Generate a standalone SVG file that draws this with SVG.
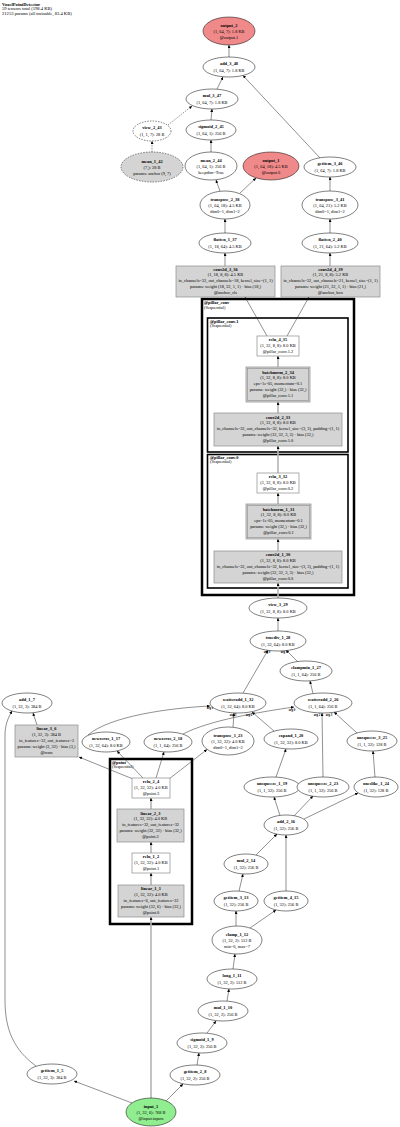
<svg xmlns="http://www.w3.org/2000/svg" width="400" height="1127" viewBox="0 0 400 1127">
<style>
.t{font-family:"Liberation Serif","Times New Roman",serif;font-size:4.4px;text-anchor:middle;fill:#000}
.l{font-family:"Liberation Serif","Times New Roman",serif;font-size:4.4px;text-anchor:start;fill:#000}
.h{font-family:"Liberation Serif","Times New Roman",serif;font-size:4.6px;text-anchor:start;fill:#000}
.a{font-family:"Liberation Serif","Times New Roman",serif;font-size:3px;font-weight:bold;text-anchor:middle;fill:#000}
.b{font-weight:bold}
.el{fill:#fff;stroke:#000;stroke-width:0.5}
.ds{stroke-dasharray:1.5,1.2}
.gr{fill:#d4d4d4}
.out{fill:#f08a8a}
.in{fill:#90ee90}
.box{fill:#d4d4d4;stroke:#8c8c8c;stroke-width:0.7}
.mb{fill:#fff;stroke:#8c8c8c;stroke-width:0.7}
.cl{fill:none;stroke:#000}
.e{fill:none;stroke:#222;stroke-width:0.5;marker-end:url(#ah)}
.g{fill:none;stroke:#b4b4b4;stroke-width:1.6;marker-end:url(#ag)}
</style>
<defs>
<marker id="ah" viewBox="0 0 10 10" refX="10" refY="5" markerWidth="3" markerHeight="3" markerUnits="userSpaceOnUse" orient="auto"><path d="M0,0 L10,5 L0,10 z" fill="#000"/></marker>
<marker id="ag" viewBox="0 0 10 10" refX="10" refY="5" markerWidth="3" markerHeight="3" markerUnits="userSpaceOnUse" orient="auto"><path d="M0,0 L10,5 L0,10 z" fill="#000"/></marker>
</defs>
<rect width="400" height="1127" fill="#fff"/>
<g id="title">
<text class="h b" x="2" y="5.5">VoxelPointDetector</text>
<text class="h" x="2" y="10.2">59 tensors total (198.4 KB)</text>
<text class="h" x="2" y="14.8">21253 params (all trainable, 83.4 KB)</text>
</g>
<g id="clusters">
<g id="cluster_pillar_conv"><rect class="cl" x="202" y="299" width="152" height="296" stroke-width="2.5"/><text class="l b" x="204" y="304.3">@pillar_conv</text><text class="l" x="204" y="308.7">(Sequential)</text></g>
<g id="cluster_pillar_conv_1"><rect class="cl" x="207.5" y="318" width="140.5" height="134" stroke-width="1.6"/><text class="l b" x="210" y="322.5">@pillar_conv.1</text><text class="l" x="210" y="326.9">(Sequential)</text></g>
<g id="cluster_pillar_conv_0"><rect class="cl" x="207.5" y="454.5" width="140.5" height="133.5" stroke-width="1.6"/><text class="l b" x="210" y="459">@pillar_conv.0</text><text class="l" x="210" y="463.4">(Sequential)</text></g>
<g id="cluster_point"><rect class="cl" x="110" y="759" width="82" height="165" stroke-width="2.5"/><text class="l b" x="112" y="764">@point</text><text class="l" x="112" y="768.4">(Sequential)</text></g>
</g>
<g id="connectors">
<path class="e" d="M132,1103 L74,1081"/>
<path class="e" d="M166,1101 L183,1084"/>
<path class="g" d="M151,1098 L151,917"/>
<path class="e" d="M36,1066 C14,1050 5,1030 5,1000 L5,735 C5,725 8,718 12,711"/>
<path class="e" d="M37,725 L33,713"/>
<path class="e" d="M133,779 L79,757"/>
<path class="e" d="M143,778 L117,751"/>
<path class="e" d="M156,778 L164,752"/>
<path class="e" d="M169,779 L207,749.5"/>
<path class="e" d="M88,735 C110,716 170,708 210,706"/>
<path class="e" d="M183,734 C210,720 260,712 294,707"/>
<path class="e" d="M233,727.5 L234,713"/>
<path class="e" d="M274,731 L252,712"/>
<path class="e" d="M243,693 L268,650"/>
<path class="e" d="M298,662 L286,650"/>
<path class="e" d="M313,693.5 L310,681"/>
<path class="e" d="M278,631 L278,618"/>
<path class="g" d="M278,598 L278,583"/>
<path class="e" d="M276,777 L286,749"/>
<path class="e" d="M323,777 L322,713"/>
<path class="e" d="M357,733 L334,712"/>
<path class="e" d="M375,777 L373,751"/>
<path class="e" d="M280,815.5 L274,797"/>
<path class="e" d="M294,816 L313,796"/>
<path class="e" d="M304,819 L358,793"/>
<path class="e" d="M256,855 L277,834"/>
<path class="e" d="M286,891 L286,835"/>
<path class="e" d="M239,891 L243,874"/>
<path class="e" d="M236,926 L236,911"/>
<path class="e" d="M250,928 L276,910"/>
<path class="e" d="M233,969 L235,954"/>
<path class="e" d="M227,1001 L229,989"/>
<path class="e" d="M207,1033 L216,1021"/>
<path class="e" d="M197,1065 L199,1053"/>
<path class="g" d="M151,885 L151,873"/>
<path class="g" d="M151,853 L151,842"/>
<path class="g" d="M151,809 L151,798"/>
<path class="g" d="M278,551 L278,539"/>
<path class="g" d="M278,504 L278,493"/>
<path class="g" d="M278,473 L278,446"/>
<path class="g" d="M278,413 L278,402"/>
<path class="g" d="M278,367 L278,356"/>
<path class="e" d="M267,336 L245,297"/>
<path class="e" d="M287,336 L309,297"/>
<path class="e" d="M225,266 L225,253"/>
<path class="e" d="M225,233 L225,219"/>
<path class="e" d="M330,266 L330,253"/>
<path class="e" d="M330,233 L330,219"/>
<path class="e" d="M240,193 L256,178"/>
<path class="e" d="M220,191.3 L216,180"/>
<path class="e" d="M330,191 L330,177"/>
<path class="e" d="M211,152 L211,140"/>
<path class="e" d="M211,120 L212,109"/>
<path class="e ds" d="M152,152 L152,141"/>
<path class="e ds" d="M168,125 L192,106"/>
<path class="e" d="M217,89 L223,77"/>
<path class="e" d="M320,158 L243,75.5"/>
<path class="e" d="M229,57 L229,45"/>
<text class="a" x="267" y="652.5">arg 0</text>
<text class="a" x="284" y="652.5">arg 1</text>
<text class="a" x="210" y="708.5">arg 0</text>
<text class="a" x="233" y="716">arg 3</text>
<text class="a" x="249" y="715.5">arg 2</text>
<text class="a" x="292" y="710.5">arg 0</text>
<text class="a" x="317" y="716">arg 2</text>
<text class="a" x="329" y="715.5">arg 3</text>
</g>
<g id="output_2"><ellipse class="el out" cx="229" cy="31" rx="26" ry="14"/><text class="t b" x="229" y="26.6">output_2</text><text class="t" x="229" y="32.6">(1, 64, 7): 1.8 KB</text><text class="t" x="229" y="38.6">@output.1</text></g>
<g id="add_3_48"><ellipse class="el" cx="229" cy="67" rx="26" ry="10"/><text class="t b" x="229" y="65.2">add_3_48</text><text class="t" x="229" y="71.6">(1, 64, 7): 1.8 KB</text></g>
<g id="mul_3_47"><ellipse class="el" cx="212" cy="99" rx="26" ry="10"/><text class="t b" x="212" y="97.2">mul_3_47</text><text class="t" x="212" y="103.6">(1, 64, 7): 1.8 KB</text></g>
<g id="sigmoid_2_45"><ellipse class="el" cx="211" cy="130" rx="25" ry="10"/><text class="t b" x="211" y="128.2">sigmoid_2_45</text><text class="t" x="211" y="134.6">(1, 64, 1): 256 B</text></g>
<g id="view_2_43"><ellipse class="el ds" cx="152" cy="131" rx="19" ry="10"/><text class="t b" x="152" y="129.2">view_2_43</text><text class="t" x="152" y="135.6">(1, 1, 7): 28 B</text></g>
<g id="mean_1_42"><ellipse class="el gr ds" cx="152" cy="167" rx="31" ry="15"/><text class="t b" x="152" y="162.6">mean_1_42</text><text class="t" x="152" y="168.6">(7,): 28 B</text><text class="t" x="152" y="174.6">params: anchor (9, 7)</text></g>
<g id="mean_2_44"><ellipse class="el" cx="211" cy="166" rx="26" ry="14"/><text class="t b" x="211" y="161.6">mean_2_44</text><text class="t" x="211" y="167.6">(1, 64, 1): 256 B</text><text class="t" x="211" y="173.6">keepdim=True</text></g>
<g id="output_1"><ellipse class="el out" cx="271" cy="166" rx="28" ry="14"/><text class="t b" x="271" y="161.6">output_1</text><text class="t" x="271" y="167.6">(1, 64, 18): 4.5 KB</text><text class="t" x="271" y="173.6">@output.0</text></g>
<g id="getitem_3_46"><ellipse class="el" cx="330" cy="167" rx="26" ry="10"/><text class="t b" x="330" y="165.2">getitem_3_46</text><text class="t" x="330" y="171.6">(1, 64, 7): 1.8 KB</text></g>
<g id="transpose_2_38"><ellipse class="el" cx="225" cy="205" rx="25" ry="14"/><text class="t b" x="225" y="200.6">transpose_2_38</text><text class="t" x="225" y="206.6">(1, 64, 18): 4.5 KB</text><text class="t" x="225" y="212.6">dim0=1, dim1=2</text></g>
<g id="transpose_3_41"><ellipse class="el" cx="330" cy="205" rx="28" ry="14"/><text class="t b" x="330" y="200.6">transpose_3_41</text><text class="t" x="330" y="206.6">(1, 64, 21): 5.2 KB</text><text class="t" x="330" y="212.6">dim0=1, dim1=2</text></g>
<g id="flatten_1_37"><ellipse class="el" cx="225" cy="243" rx="26" ry="10"/><text class="t b" x="225" y="241.2">flatten_1_37</text><text class="t" x="225" y="247.6">(1, 18, 64): 4.5 KB</text></g>
<g id="flatten_2_40"><ellipse class="el" cx="330" cy="243" rx="28" ry="10"/><text class="t b" x="330" y="241.2">flatten_2_40</text><text class="t" x="330" y="247.6">(1, 21, 64): 5.2 KB</text></g>
<g id="conv2d_3_36"><rect class="box" x="176" y="266" width="99" height="31"/><text class="t b" x="225.5" y="270.5">conv2d_3_36</text><text class="t" x="225.5" y="276.4">(1, 18, 8, 8): 4.5 KB</text><text class="t" x="225.5" y="282.3">in_channels=32, out_channels=18, kernel_size=(1, 1)</text><text class="t" x="225.5" y="288.2">params: weight (18, 32, 1, 1) · bias (18,)</text><text class="t" x="225.5" y="294.1">@anchor_cls</text></g>
<g id="conv2d_4_39"><rect class="box" x="281" y="266" width="99" height="31"/><text class="t b" x="330.5" y="270.5">conv2d_4_39</text><text class="t" x="330.5" y="276.4">(1, 21, 8, 8): 5.2 KB</text><text class="t" x="330.5" y="282.3">in_channels=32, out_channels=21, kernel_size=(1, 1)</text><text class="t" x="330.5" y="288.2">params: weight (21, 32, 1, 1) · bias (21,)</text><text class="t" x="330.5" y="294.1">@anchor_box</text></g>
<g id="relu_4_35"><rect class="mb" x="257" y="336" width="42" height="20"/><text class="t b" x="278" y="340.6">relu_4_35</text><text class="t" x="278" y="346.6">(1, 32, 8, 8): 8.0 KB</text><text class="t" x="278" y="352.6">@pillar_conv.1.2</text></g>
<g id="batchnorm_2_34"><rect class="box" x="246" y="367" width="64" height="35"/><rect fill="none" stroke="#8c8c8c" stroke-width="0.6" x="247.3" y="368.3" width="61.4" height="32.4"/><text class="t b" x="278" y="373.5">batchnorm_2_34</text><text class="t" x="278" y="379.4">(1, 32, 8, 8): 8.0 KB</text><text class="t" x="278" y="385.3">eps=1e-05, momentum=0.1</text><text class="t" x="278" y="391.2">params: weight (32,) · bias (32,)</text><text class="t" x="278" y="397.1">@pillar_conv.1.1</text></g>
<g id="conv2d_2_33"><rect class="box" x="214" y="413" width="128" height="33"/><text class="t b" x="278" y="418.5">conv2d_2_33</text><text class="t" x="278" y="424.4">(1, 32, 8, 8): 8.0 KB</text><text class="t" x="278" y="430.3">in_channels=32, out_channels=32, kernel_size=(3, 3), padding=(1, 1)</text><text class="t" x="278" y="436.2">params: weight (32, 32, 3, 3) · bias (32,)</text><text class="t" x="278" y="442.1">@pillar_conv.1.0</text></g>
<g id="relu_3_32"><rect class="mb" x="257" y="473" width="42" height="20"/><text class="t b" x="278" y="477.6">relu_3_32</text><text class="t" x="278" y="483.6">(1, 32, 8, 8): 8.0 KB</text><text class="t" x="278" y="489.6">@pillar_conv.0.2</text></g>
<g id="batchnorm_1_31"><rect class="box" x="246" y="504" width="65" height="35"/><rect fill="none" stroke="#8c8c8c" stroke-width="0.6" x="247.3" y="505.3" width="62.4" height="32.4"/><text class="t b" x="278.5" y="510.5">batchnorm_1_31</text><text class="t" x="278.5" y="516.4">(1, 32, 8, 8): 8.0 KB</text><text class="t" x="278.5" y="522.3">eps=1e-05, momentum=0.1</text><text class="t" x="278.5" y="528.2">params: weight (32,) · bias (32,)</text><text class="t" x="278.5" y="534.1">@pillar_conv.0.1</text></g>
<g id="conv2d_1_30"><rect class="box" x="214" y="551" width="128" height="32"/><text class="t b" x="278" y="556">conv2d_1_30</text><text class="t" x="278" y="561.9">(1, 32, 8, 8): 8.0 KB</text><text class="t" x="278" y="567.8">in_channels=32, out_channels=32, kernel_size=(3, 3), padding=(1, 1)</text><text class="t" x="278" y="573.7">params: weight (32, 32, 3, 3) · bias (32,)</text><text class="t" x="278" y="579.6">@pillar_conv.0.0</text></g>
<g id="view_1_29"><ellipse class="el" cx="278" cy="608" rx="29" ry="10"/><text class="t b" x="278" y="606.2">view_1_29</text><text class="t" x="278" y="612.6">(1, 32, 8, 8): 8.0 KB</text></g>
<g id="truediv_1_28"><ellipse class="el" cx="278" cy="641" rx="28" ry="10"/><text class="t b" x="278" y="639.2">truediv_1_28</text><text class="t" x="278" y="645.6">(1, 32, 64): 8.0 KB</text></g>
<g id="clampmin_1_27"><ellipse class="el" cx="306" cy="671" rx="26" ry="10"/><text class="t b" x="306" y="669.2">clampmin_1_27</text><text class="t" x="306" y="675.6">(1, 1, 64): 256 B</text></g>
<g id="scatteradd_1_32"><ellipse class="el" cx="238" cy="703" rx="28" ry="10"/><text class="t b" x="238" y="701.2">scatteradd_1_32</text><text class="t" x="238" y="707.6">(1, 32, 64): 8.0 KB</text></g>
<g id="scatteradd_2_26"><ellipse class="el" cx="323" cy="703" rx="29" ry="10"/><text class="t b" x="323" y="701.2">scatteradd_2_26</text><text class="t" x="323" y="707.6">(1, 1, 64): 256 B</text></g>
<g id="add_1_7"><ellipse class="el" cx="27" cy="703" rx="25" ry="10"/><text class="t b" x="27" y="701.2">add_1_7</text><text class="t" x="27" y="707.6">(1, 32, 3): 384 B</text></g>
<g id="linear_3_6"><rect class="box" x="15" y="725" width="63" height="32"/><text class="t b" x="46.5" y="730">linear_3_6</text><text class="t" x="46.5" y="735.9">(1, 32, 3): 384 B</text><text class="t" x="46.5" y="741.8">in_features=32, out_features=3</text><text class="t" x="46.5" y="747.7">params: weight (3, 32) · bias (3,)</text><text class="t" x="46.5" y="753.6">@rcnn</text></g>
<g id="newzeros_1_17"><ellipse class="el" cx="106" cy="742" rx="24" ry="10"/><text class="t b" x="106" y="740.2">newzeros_1_17</text><text class="t" x="106" y="746.6">(1, 32, 64): 8.0 KB</text></g>
<g id="newzeros_2_18"><ellipse class="el" cx="168" cy="742" rx="24" ry="10"/><text class="t b" x="168" y="740.2">newzeros_2_18</text><text class="t" x="168" y="746.6">(1, 1, 64): 256 B</text></g>
<g id="transpose_1_23"><ellipse class="el" cx="228" cy="741" rx="26" ry="14"/><text class="t b" x="228" y="736.6">transpose_1_23</text><text class="t" x="228" y="742.6">(1, 32, 32): 4.0 KB</text><text class="t" x="228" y="748.6">dim0=1, dim1=2</text></g>
<g id="expand_1_20"><ellipse class="el" cx="291" cy="739" rx="27" ry="10"/><text class="t b" x="291" y="737.2">expand_1_20</text><text class="t" x="291" y="743.6">(1, 32, 32): 8.0 KB</text></g>
<g id="unsqueeze_3_25"><ellipse class="el" cx="372" cy="741" rx="25" ry="10"/><text class="t b" x="372" y="739.2">unsqueeze_3_25</text><text class="t" x="372" y="745.6">(1, 1, 32): 128 B</text></g>
<g id="unsqueeze_1_19"><ellipse class="el" cx="272" cy="787" rx="28" ry="10"/><text class="t b" x="272" y="785.2">unsqueeze_1_19</text><text class="t" x="272" y="791.6">(1, 1, 32): 256 B</text></g>
<g id="unsqueeze_2_23"><ellipse class="el" cx="323" cy="787" rx="26" ry="10"/><text class="t b" x="323" y="785.2">unsqueeze_2_23</text><text class="t" x="323" y="791.6">(1, 1, 32): 256 B</text></g>
<g id="oneslike_1_24"><ellipse class="el" cx="376" cy="787" rx="22" ry="10"/><text class="t b" x="376" y="785.2">oneslike_1_24</text><text class="t" x="376" y="791.6">(1, 32): 128 B</text></g>
<g id="relu_2_4"><rect class="mb" x="132" y="778" width="38" height="20"/><text class="t b" x="151" y="782.6">relu_2_4</text><text class="t" x="151" y="788.6">(1, 32, 32): 4.0 KB</text><text class="t" x="151" y="794.6">@point.3</text></g>
<g id="linear_2_3"><rect class="box" x="117" y="809" width="67" height="33"/><text class="t b" x="150.5" y="814.5">linear_2_3</text><text class="t" x="150.5" y="820.4">(1, 32, 32): 4.0 KB</text><text class="t" x="150.5" y="826.3">in_features=32, out_features=32</text><text class="t" x="150.5" y="832.2">params: weight (32, 32) · bias (32,)</text><text class="t" x="150.5" y="838.1">@point.2</text></g>
<g id="add_2_16"><ellipse class="el" cx="286" cy="825" rx="22" ry="10"/><text class="t b" x="286" y="823.2">add_2_16</text><text class="t" x="286" y="829.6">(1, 32): 256 B</text></g>
<g id="relu_1_2"><rect class="mb" x="132" y="853" width="38" height="20"/><text class="t b" x="151" y="857.6">relu_1_2</text><text class="t" x="151" y="863.6">(1, 32, 32): 4.0 KB</text><text class="t" x="151" y="869.6">@point.1</text></g>
<g id="mul_2_14"><ellipse class="el" cx="246" cy="864" rx="22" ry="10"/><text class="t b" x="246" y="862.2">mul_2_14</text><text class="t" x="246" y="868.6">(1, 32): 256 B</text></g>
<g id="linear_1_1"><rect class="box" x="118" y="885" width="66" height="32"/><text class="t b" x="151" y="890">linear_1_1</text><text class="t" x="151" y="895.9">(1, 32, 32): 4.0 KB</text><text class="t" x="151" y="901.8">in_features=6, out_features=32</text><text class="t" x="151" y="907.7">params: weight (32, 6) · bias (32,)</text><text class="t" x="151" y="913.6">@point.0</text></g>
<g id="getitem_3_13"><ellipse class="el" cx="236" cy="901" rx="22" ry="10"/><text class="t b" x="236" y="899.2">getitem_3_13</text><text class="t" x="236" y="905.6">(1, 32): 256 B</text></g>
<g id="getitem_4_15"><ellipse class="el" cx="286" cy="901" rx="22" ry="10"/><text class="t b" x="286" y="899.2">getitem_4_15</text><text class="t" x="286" y="905.6">(1, 32): 256 B</text></g>
<g id="clamp_1_12"><ellipse class="el" cx="237" cy="940" rx="25" ry="14"/><text class="t b" x="237" y="935.6">clamp_1_12</text><text class="t" x="237" y="941.6">(1, 32, 2): 512 B</text><text class="t" x="237" y="947.6">min=0, max=7</text></g>
<g id="long_1_11"><ellipse class="el" cx="232" cy="979" rx="25" ry="10"/><text class="t b" x="232" y="977.2">long_1_11</text><text class="t" x="232" y="983.6">(1, 32, 2): 512 B</text></g>
<g id="mul_1_10"><ellipse class="el" cx="223" cy="1011" rx="25" ry="10"/><text class="t b" x="223" y="1009.2">mul_1_10</text><text class="t" x="223" y="1015.6">(1, 32, 2): 256 B</text></g>
<g id="sigmoid_1_9"><ellipse class="el" cx="202" cy="1043" rx="25" ry="10"/><text class="t b" x="202" y="1041.2">sigmoid_1_9</text><text class="t" x="202" y="1047.6">(1, 32, 2): 256 B</text></g>
<g id="getitem_2_8"><ellipse class="el" cx="195" cy="1075" rx="25" ry="10"/><text class="t b" x="195" y="1073.2">getitem_2_8</text><text class="t" x="195" y="1079.6">(1, 32, 2): 256 B</text></g>
<g id="getitem_1_5"><ellipse class="el" cx="52" cy="1074" rx="25" ry="10"/><text class="t b" x="52" y="1072.2">getitem_1_5</text><text class="t" x="52" y="1078.6">(1, 32, 3): 384 B</text></g>
<g id="input_1"><ellipse class="el in" cx="151" cy="1112" rx="25" ry="14"/><text class="t b" x="151" y="1107.6">input_1</text><text class="t" x="151" y="1113.6">(1, 32, 6): 768 B</text><text class="t" x="151" y="1119.6">@input.inputs</text></g>
</svg>
